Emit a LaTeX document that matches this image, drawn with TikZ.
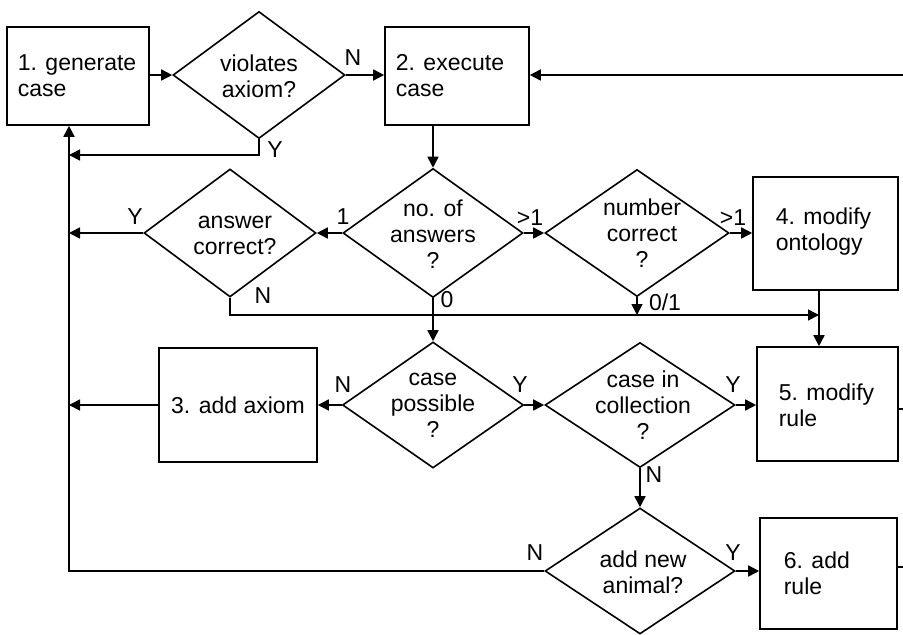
\documentclass[tikz,border=0pt]{standalone}
\usepackage{fontspec}
\setmainfont{Liberation Sans}
\usetikzlibrary{shapes.geometric,arrows.meta}
\begin{document}
\begin{tikzpicture}[x=1pt,y=-1pt,
  line width=1.6pt,
  font=\fontsize{23}{26}\selectfont,
  box/.style={draw,rectangle,inner sep=0pt},
  dec/.style={draw,diamond,inner sep=0pt},
  txt/.style={inner sep=0pt,align=left,anchor=west},
  ctxt/.style={inner sep=0pt,align=center},
  lbl/.style={inner sep=0pt},
  arr/.style={-{Triangle[length=11pt,width=11pt]}},
]
\useasboundingbox (0,0) rectangle (903,635);

% process boxes
\node[box,minimum width=142pt,minimum height=98pt]  (b1) at (78,76) {};
\node[box,minimum width=144pt,minimum height=98pt]  (b2) at (457,76) {};
\node[box,minimum width=158pt,minimum height=114pt] (b3) at (238,405) {};
\node[box,minimum width=145pt,minimum height=113pt] (b4) at (825.5,233.5) {};
\node[box,minimum width=141pt,minimum height=114pt] (b5) at (827.5,404) {};
\node[box,minimum width=137pt,minimum height=111pt] (b6) at (828.5,573.5) {};

% decisions
\node[dec,minimum width=172pt,minimum height=127pt] (vi) at (259,75) {};
\node[dec,minimum width=180pt,minimum height=129pt] (nq) at (433,233) {};
\node[dec,minimum width=172pt,minimum height=128pt] (ac) at (230,233) {};
\node[dec,minimum width=184pt,minimum height=127pt] (nc) at (637,233) {};
\node[dec,minimum width=181pt,minimum height=126pt] (cp) at (433,405) {};
\node[dec,minimum width=190pt,minimum height=125pt] (co) at (640,405) {};
\node[dec,minimum width=190pt,minimum height=126pt] (na) at (640,571) {};

% texts of the boxes
\node[txt] (t1) at (17,76) {1. generate\\case};
\node[txt] (t2) at (395,76) {2. execute\\case};
\node[ctxt] (t3) at (b3) {3. add axiom};
\node[txt] (t4) at (775,232) {4. modify\\ontology};
\node[txt] (t5) at (778,405) {5. modify\\rule};
\node[txt] (t6) at (783,573) {6. add\\rule};

% texts of the decisions
\node[ctxt] (tvi) at (259,76) {violates\\axiom?};
\node[ctxt] (tnq) at (433,234) {no. of\\answers\\?};
\node[ctxt] (tac) at (235,235) {answer\\correct?};
\node[ctxt] (tnc) at (642,233) {number\\correct\\?};
\node[ctxt] (tcp) at (433,405) {case\\possible\\?};
\node[ctxt] (tco) at (643,405) {case in\\collection\\?};
\node[ctxt] (tna) at (643,572) {add new\\animal?};

% helper points
\coordinate (loopx) at (69,0);
\coordinate (fb) at (903,75);
\coordinate (ybend) at (69,155);
\coordinate (mx) at (819,0);
\coordinate (nline) at (819,315);
\coordinate (e5) at (903,409);
\coordinate (e6) at (903,567);

% connectors
\draw[arr] (b1.east |- vi.west) -- (vi.west);
\draw[arr] (vi.east) -- (vi.east -| b2.west);
\draw[arr] (fb) -- (fb -| b2.east);
\draw[arr] (vi.south) |- (ybend);
\draw[arr] (na.west) -- (na.west -| loopx) -- (loopx |- b1.south);
\draw[arr] (b2.south -| nq.north) -- (nq.north);
\draw[arr] (nq.west) -- (nq.west -| ac.east);
\draw[arr] (ac.west) -- (ac.west -| loopx);
\draw[arr] (ac.south) |- (nline);
\draw[arr] (nq.east) -- (nq.east -| nc.west);
\draw[arr] (nc.east) -- (nc.east -| b4.west);
\draw[arr] (nc.south) -- (nc.south |- nline);
\draw[arr] (mx |- b4.south) -- (mx |- b5.north);
\draw[arr] (nq.south) -- (cp.north);
\draw[arr] (cp.west) -- (cp.west -| b3.east);
\draw[arr] (b3.west) -- (b3.west -| loopx);
\draw[arr] (cp.east) -- (cp.east -| co.west);
\draw[arr] (co.east) -- (co.east -| b5.west);
\draw[arr] (co.south) -- (na.north);
\draw[arr] (na.east) -- (na.east -| b6.west);
\draw (e5 -| b5.east) -- (e5);
\draw (e6 -| b6.east) -- (e6);

% branch labels
\node[lbl] (l1) at (353,58) {N};
\node[lbl] (l2) at (275,150) {Y};
\node[lbl] (l3) at (343,217) {1};
\node[lbl] (l4) at (135,217) {Y};
\node[lbl] (l5) at (263,296) {N};
\node[lbl] (l6) at (447,300) {0};
\node[lbl] (l7) at (530,218) {>1};
\node[lbl] (l8) at (733,218) {>1};
\node[lbl] (l9) at (665,302) {0/1};
\node[lbl] (l10) at (343,385) {N};
\node[lbl] (l11) at (520,385) {Y};
\node[lbl] (l12) at (733,385) {Y};
\node[lbl] (l13) at (654,475) {N};
\node[lbl] (l14) at (535,553) {N};
\node[lbl] (l15) at (733,553) {Y};
\end{tikzpicture}
\end{document}
